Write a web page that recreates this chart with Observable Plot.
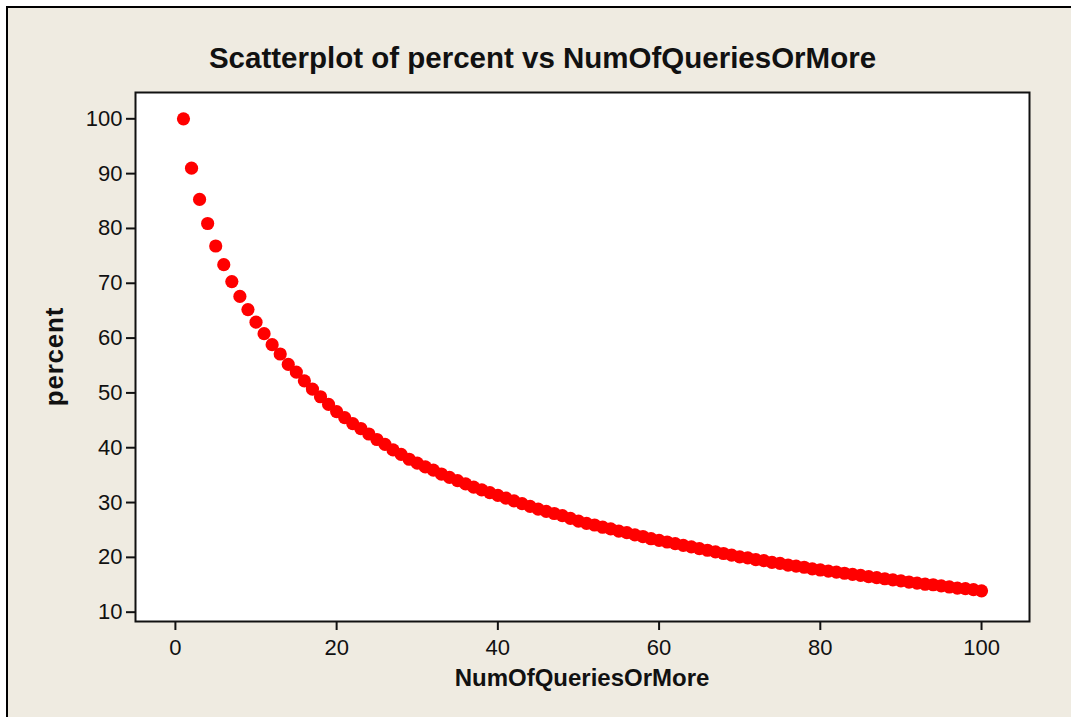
<!DOCTYPE html>
<html>
<head>
<meta charset="utf-8">
<script src="https://cdn.jsdelivr.net/npm/d3@7"></script>
<script src="https://cdn.jsdelivr.net/npm/@observablehq/plot@0.6"></script>
<style>
  html, body { margin: 0; padding: 0; background: #ffffff; overflow: hidden; }
  #panel {
    position: absolute; left: 6px; top: 6px; width: 1100px; height: 760px;
    background: #EFEBE1; border-left: 2px solid #000; border-top: 2px solid #000;
  }
  #chart { position: absolute; left: 0; top: 0; }
</style>
</head>
<body>
<div id="panel"></div>
<div id="chart"></div>
<script>
// Number of queries (N or more) issued
const numOfQueriesOrMore = [
  1, 2, 3, 4, 5, 6, 7, 8, 9, 10,
  11, 12, 13, 14, 15, 16, 17, 18, 19, 20,
  21, 22, 23, 24, 25, 26, 27, 28, 29, 30,
  31, 32, 33, 34, 35, 36, 37, 38, 39, 40,
  41, 42, 43, 44, 45, 46, 47, 48, 49, 50,
  51, 52, 53, 54, 55, 56, 57, 58, 59, 60,
  61, 62, 63, 64, 65, 66, 67, 68, 69, 70,
  71, 72, 73, 74, 75, 76, 77, 78, 79, 80,
  81, 82, 83, 84, 85, 86, 87, 88, 89, 90,
  91, 92, 93, 94, 95, 96, 97, 98, 99, 100
];

// Percent of users reaching that many queries
const percent = [
  100.0, 91.0, 85.3, 80.9, 76.8, 73.4, 70.3, 67.6, 65.2, 62.9,
  60.8, 58.8, 57.1, 55.2, 53.8, 52.2, 50.7, 49.3, 47.9, 46.6,
  45.5, 44.4, 43.5, 42.5, 41.5, 40.6, 39.6, 38.8, 37.9, 37.2,
  36.5, 35.9, 35.2, 34.6, 34.0, 33.4, 32.8, 32.3, 31.8, 31.3,
  30.8, 30.3, 29.8, 29.3, 28.8, 28.4, 28.0, 27.6, 27.1, 26.6,
  26.2, 25.9, 25.5, 25.2, 24.8, 24.5, 24.1, 23.8, 23.4, 23.1,
  22.8, 22.5, 22.2, 21.9, 21.6, 21.3, 21.0, 20.7, 20.4, 20.1,
  19.9, 19.6, 19.4, 19.1, 18.9, 18.6, 18.4, 18.2, 17.9, 17.7,
  17.5, 17.3, 17.1, 16.9, 16.7, 16.5, 16.3, 16.1, 15.9, 15.7,
  15.5, 15.3, 15.1, 15.0, 14.8, 14.6, 14.4, 14.3, 14.1, 13.9
];

const xTicks = [0, 20, 40, 60, 80, 100];
const yTicks = [10, 20, 30, 40, 50, 60, 70, 80, 90, 100];

const titleText = "Scatterplot of percent vs NumOfQueriesOrMore";
const xLabel = "NumOfQueriesOrMore";
const yLabel = "percent";

const rows = numOfQueriesOrMore.map((n, i) => ({n, pct: percent[i]}));

const W = 1071, H = 717;
const mLeft = 135, mTop = 92, mRight = 42, mBottom = 96;
const font = "'Liberation Sans', Arial, sans-serif";

const svg = Plot.plot({
  width: W,
  height: H,
  marginLeft: mLeft,
  marginTop: mTop,
  marginRight: mRight,
  marginBottom: mBottom,
  style: {background: "transparent", fontFamily: font, fontSize: "22px", color: "#111"},
  x: {domain: [-4.95, 105.95], label: null},
  y: {domain: [8.3, 104.8], label: null},
  marks: [
    Plot.frame({fill: "white", stroke: "none"}),
    Plot.axisX({ticks: xTicks, tickSize: 9, tickPadding: 9, strokeWidth: 2, fontSize: 22, label: null, stroke: "#111"}),
    Plot.axisY({ticks: yTicks, tickSize: 9, tickPadding: 4, strokeWidth: 2, fontSize: 22, label: null, stroke: "#111"}),
    Plot.dot(rows, {x: "n", y: "pct", r: 6.6, fill: "#FF0000", stroke: "none"}),
    Plot.frame({stroke: "#111", strokeWidth: 2})
  ]
});

// Title and axis titles
const s = d3.select(svg);
s.append("text")
  .attr("x", 542.5).attr("y", 68)
  .attr("text-anchor", "middle")
  .style("font-family", font)
  .style("font-weight", "bold").style("font-size", "29.5px").attr("fill", "#111")
  .text(titleText);
s.append("text")
  .attr("x", mLeft + (W - mLeft - mRight) / 2).attr("y", 686)
  .attr("text-anchor", "middle")
  .style("font-family", font)
  .style("font-weight", "bold").style("font-size", "24px").attr("fill", "#111")
  .text(xLabel);
s.append("text")
  .attr("transform", `translate(63, ${mTop + (H - mTop - mBottom) / 2}) rotate(-90)`)
  .attr("text-anchor", "middle")
  .style("font-family", font)
  .style("font-weight", "bold").style("font-size", "26px")
  .style("letter-spacing", "0.8px").attr("fill", "#111")
  .text(yLabel);

document.getElementById("chart").appendChild(svg);
</script>
</body>
</html>
